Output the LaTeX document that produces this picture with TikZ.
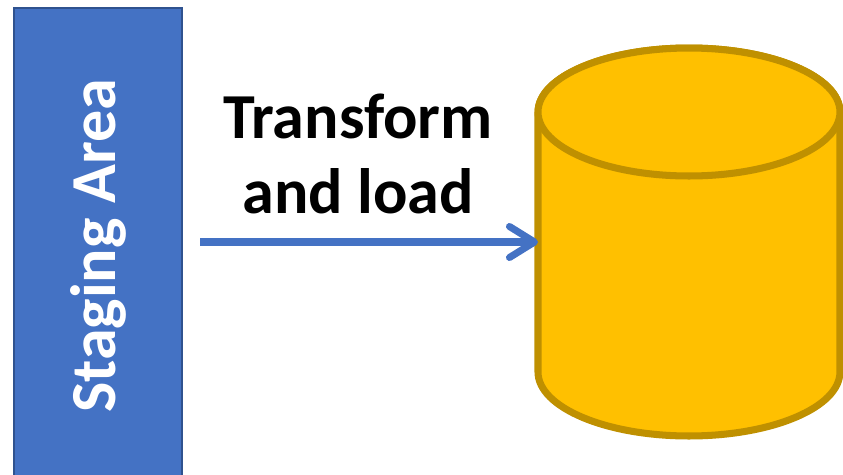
\documentclass[tikz,border=0pt]{standalone}
\usepackage{fontspec}
\setsansfont{Carlito}
\usetikzlibrary{shapes.geometric, arrows.meta, positioning}
\definecolor{stageblue}{RGB}{68, 114, 196}
\definecolor{stageedge}{RGB}{47, 82, 143}
\definecolor{dbgold}{RGB}{255, 192, 0}
\definecolor{dbedge}{RGB}{191, 144, 0}
\tikzset{
  stagebox/.style = {rectangle, draw=stageedge, fill=stageblue, line width=1.2pt,
                     text=white, font=\sffamily\bfseries\fontsize{36.5}{43}\selectfont},
  dbstore/.style  = {draw=dbedge, fill=dbgold, line width=4pt, line join=round},
  flow/.style     = {-{Straight Barb[length=0.5cm, width=0.62cm, round]}, line width=4pt, stageblue},
}

\begin{document}
\begin{tikzpicture}[
    x=0.02cm, y=-0.02cm,
    % label above the arrow
    steplabel/.style={font=\sffamily\bfseries\fontsize{36.5}{43}\selectfont, align=center},
]
\useasboundingbox (0,0) rectangle (843,474);
\clip (0,0) rectangle (843,474);

% ===================== staging area =====================
\node[stagebox, rotate=90, minimum width=9.52cm, minimum height=3.36cm] (stage) at (98,246) {Staging Area};

% ===================== warehouse (cylinder) =====================
\path[dbstore] (538,112) -- (538,372)
    arc[start angle=180, end angle=360, x radius=3.02cm, y radius=1.28cm]
    -- (840,112)
    arc[start angle=0, end angle=180, x radius=3.02cm, y radius=1.28cm] -- cycle;
\path[dbstore] (689,112) circle[x radius=3.02cm, y radius=1.28cm];
\coordinate (dwin) at (538,242);

% ===================== flow =====================
\coordinate (src) at (200,242);
\draw[flow] (src) -- (dwin);
\node[steplabel] (tl) at (358,154) {Transform\\and load};

\end{tikzpicture}
\end{document}
